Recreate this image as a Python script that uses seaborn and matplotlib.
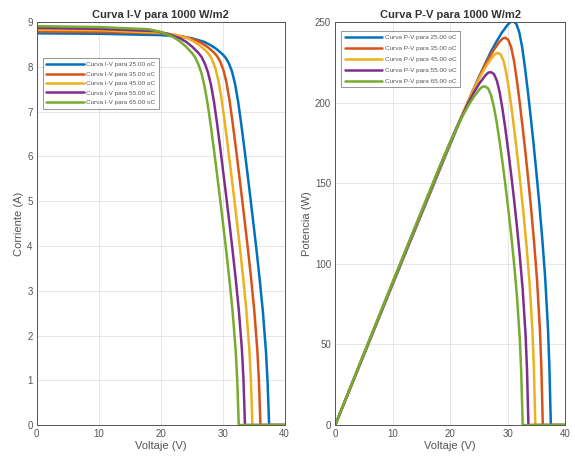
import pandas as pd
import matplotlib.pyplot as plt
import seaborn as sns

# Curvas I-V (1000 W/m2)
temps = ["25.00", "35.00", "45.00", "55.00", "65.00"]

v_25 = [0, 10, 20, 23, 25, 27, 28, 29, 30, 30.5, 31, 31.5, 32, 32.5, 33, 33.5, 34, 34.5, 35, 35.5, 36, 36.5, 37, 37.25, 37.5, 40]
i_25 = [8.75, 8.74, 8.71, 8.68, 8.64, 8.56, 8.49, 8.40, 8.28, 8.20, 8.08, 7.90, 7.62, 7.22, 6.72, 6.18, 5.62, 5.05, 4.46, 3.86, 3.22, 2.52, 1.62, 0.95, 0, 0]

v_35 = [0, 10, 20, 21.6, 23.6, 25.6, 26.6, 27.6, 28.6, 29.1, 29.6, 30.1, 30.6, 31.1, 31.6, 32.1, 32.6, 33.1, 33.6, 34.1, 34.6, 35.1, 35.6, 35.85, 36.1, 40]
i_35 = [8.79, 8.78, 8.75, 8.72, 8.68, 8.60, 8.53, 8.44, 8.32, 8.24, 8.12, 7.94, 7.66, 7.26, 6.76, 6.22, 5.66, 5.09, 4.50, 3.90, 3.26, 2.56, 1.66, 0.99, 0, 0]

v_45 = [0, 10, 20.3, 22.3, 24.3, 25.3, 26.3, 27.3, 27.8, 28.3, 28.8, 29.3, 29.8, 30.3, 30.8, 31.3, 31.8, 32.3, 32.8, 33.3, 33.8, 34.3, 34.55, 34.8, 40]
i_45 = [8.83, 8.82, 8.76, 8.72, 8.64, 8.57, 8.48, 8.36, 8.28, 8.16, 7.98, 7.70, 7.30, 6.80, 6.26, 5.70, 5.13, 4.54, 3.94, 3.30, 2.60, 1.70, 1.03, 0, 0]

v_55 = [0, 10, 19.1, 21.1, 23.1, 24.1, 25.1, 26.1, 26.6, 27.1, 27.6, 28.1, 28.6, 29.1, 29.6, 30.1, 30.6, 31.1, 31.6, 32.1, 32.6, 33.1, 33.35, 33.6, 40]
i_55 = [8.87, 8.85, 8.80, 8.74, 8.64, 8.56, 8.45, 8.31, 8.22, 8.08, 7.89, 7.61, 7.22, 6.73, 6.20, 5.64, 5.08, 4.50, 3.90, 3.27, 2.58, 1.70, 1.04, 0, 0]

v_65 = [0, 10, 18.1, 20.1, 22.1, 23.1, 24.1, 25.1, 25.6, 26.1, 26.6, 27.1, 27.6, 28.1, 28.6, 29.1, 29.6, 30.1, 30.6, 31.1, 31.6, 32.1, 32.35, 32.6, 40]
i_65 = [8.91, 8.89, 8.84, 8.78, 8.66, 8.57, 8.45, 8.30, 8.20, 8.05, 7.85, 7.55, 7.15, 6.67, 6.14, 5.59, 5.03, 4.45, 3.86, 3.23, 2.54, 1.66, 1.00, 0, 0]

voltajes = [v_25, v_35, v_45, v_55, v_65]
corrientes = [i_25, i_35, i_45, i_55, i_65]

colores = ["#0072BD", "#D95319", "#EDB120", "#7E2F8E", "#77AC30"]

# tabla larga para seaborn
filas = []
for t, vs, cs in zip(temps, voltajes, corrientes):
    for k, (v, i) in enumerate(zip(vs, cs)):
        filas.append({"temp": t, "orden": k, "V": v, "I": i, "P": v * i})
df = pd.DataFrame(filas)

sns.set_theme(style="whitegrid")
plt.rcParams["font.family"] = ["Liberation Sans", "DejaVu Sans"]

fig = plt.figure(figsize=(5.75, 4.61), dpi=100)
ax1 = fig.add_axes([0.064, 0.078, 0.431, 0.874])
ax2 = fig.add_axes([0.583, 0.078, 0.400, 0.874])

df["curva_iv"] = "Curva I-V para " + df["temp"] + " oC"
df["curva_pv"] = "Curva P-V para " + df["temp"] + " oC"

sns.lineplot(data=df, x="V", y="I", hue="curva_iv", units="temp", estimator=None,
             sort=False, palette=colores, linewidth=1.8, ax=ax1)
sns.lineplot(data=df, x="V", y="P", hue="curva_pv", units="temp", estimator=None,
             sort=False, palette=colores, linewidth=1.8, ax=ax2)

for ax in (ax1, ax2):
    ax.set_xlim(0, 40)
    ax.set_xticks([0, 10, 20, 30, 40])
    ax.grid(True, color="#e3e3e3", linewidth=0.6)
    for s in ax.spines.values():
        s.set_color("#555555")
        s.set_linewidth(0.7)
    ax.tick_params(direction="in", length=3, labelsize=7, colors="#444444",
                   labelcolor="#555555", pad=3)
    ax.set_xlabel("Voltaje (V)", fontsize=8, color="#555555", labelpad=1)

ax1.set_ylim(0, 9)
ax1.set_yticks(range(0, 10))
ax1.set_ylabel("Corriente (A)", fontsize=8, color="#555555", labelpad=2)
ax1.set_title("Curva I-V para 1000 W/m2", fontsize=8, fontweight="bold",
              color="#333333", pad=3)

ax2.set_ylim(0, 250)
ax2.set_yticks(range(0, 251, 50))
ax2.set_ylabel("Potencia (W)", fontsize=8, color="#555555", labelpad=2)
ax2.set_title("Curva P-V para 1000 W/m2", fontsize=8, fontweight="bold",
              color="#333333", pad=3)

for ax, pos, sp in ((ax1, (0.012, 0.918), 0.62), (ax2, (0.013, 0.985), 0.85)):
    leg = ax.legend(loc="upper left", bbox_to_anchor=pos, fontsize=4.6,
                    handlelength=5.8, handletextpad=0.4, labelspacing=sp,
                    borderpad=0.55, frameon=True, fancybox=False)
    leg.get_frame().set_edgecolor("#666666")
    leg.get_frame().set_linewidth(0.6)
    for txt in leg.get_texts():
        txt.set_color("#555555")

fig.savefig("out.png", dpi=100)
